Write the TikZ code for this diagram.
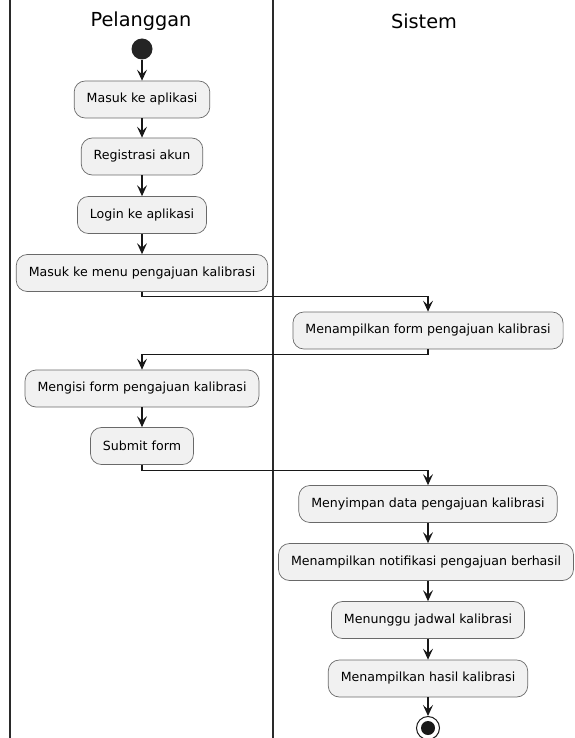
\documentclass[tikz,border=0pt]{standalone}
\usepackage{fontspec}
\setmainfont{DejaVu Sans}
\usetikzlibrary{arrows.meta}
\definecolor{boxfill}{HTML}{F1F1F1}
\definecolor{ink}{HTML}{181818}
\definecolor{lane}{HTML}{2A2A2A}
\tikzset{
  act/.style={draw=ink!65, line width=0.7pt, fill=boxfill, rounded corners=11pt,
    minimum height=37pt, inner xsep=12.5pt, inner ysep=0pt, font=\fontsize{12.6pt}{14pt}\selectfont, text=black},
  arr/.style={draw=ink, line width=1.1pt, -{Stealth[length=11pt, width=10pt, inset=4.5pt]}},
  lanetitle/.style={font=\fontsize{19.3pt}{21pt}\selectfont, text=black},
  laneline/.style={draw=lane, line width=2pt}
}
\begin{document}
\begin{tikzpicture}[x=1pt, y=-1pt]
  \useasboundingbox (0,0) rectangle (574,738);
  % swimlane borders
  \coordinate (l1t) at (9.5,0);   \coordinate (l1b) at (9.5,738);
  \coordinate (l2t) at (272.5,0); \coordinate (l2b) at (272.5,738);
  \draw[laneline] (l1t) -- (l1b);
  \draw[laneline] (l2t) -- (l2b);
  \node[lanetitle] (t1) at (141,21) {Pelanggan};
  \node[lanetitle] (t2) at (424,21) {Sistem};

  % start
  \node[circle, fill=ink!95, minimum size=21pt, inner sep=0pt] (start) at (142,49) {};

  % Pelanggan activities
  \node[act] (a1) at (142,99.5) {Masuk ke aplikasi};
  \node[act] (a2) at (142,156.5) {Registrasi akun};
  \node[act] (a3) at (142,215) {Login ke aplikasi};
  \node[act] (a4) at (142,273) {Masuk ke menu pengajuan kalibrasi};

  % Sistem
  \node[act] (b1) at (428,330.5) {Menampilkan form pengajuan kalibrasi};

  \node[act] (a5) at (142,388.5) {Mengisi form pengajuan kalibrasi};
  \node[act] (a6) at (142,446) {Submit form};

  \node[act] (b2) at (428,504) {Menyimpan data pengajuan kalibrasi};
  \node[act] (b3) at (426,562) {Menampilkan notifikasi pengajuan berhasil};
  \node[act] (b4) at (428,620) {Menunggu jadwal kalibrasi};
  \node[act] (b5) at (428,678.5) {Menampilkan hasil kalibrasi};

  % end
  \node[circle, draw=ink, line width=1pt, fill=white, minimum size=23pt, inner sep=0pt] (end) at (428,728) {};
  \node[circle, fill=ink, minimum size=14pt, inner sep=0pt] (endin) at (end.center) {};

  % flow
  \draw[arr] (start) -- (a1);
  \draw[arr] (a1) -- (a2);
  \draw[arr] (a2) -- (a3);
  \draw[arr] (a3) -- (a4);
  \draw[arr] (a4.south) -- ++(0,5) -| (b1.north);
  \draw[arr] (b1.south) -- ++(0,5) -| (a5.north);
  \draw[arr] (a5) -- (a6);
  \draw[arr] (a6.south) -- ++(0,6) -| (b2.north);
  \draw[arr] (b2) -- (b3.north -| b2);
  \draw[arr] (b3.south -| b4) -- (b4);
  \draw[arr] (b4) -- (b5);
  \draw[arr] (b5) -- (end);
\end{tikzpicture}
\end{document}
